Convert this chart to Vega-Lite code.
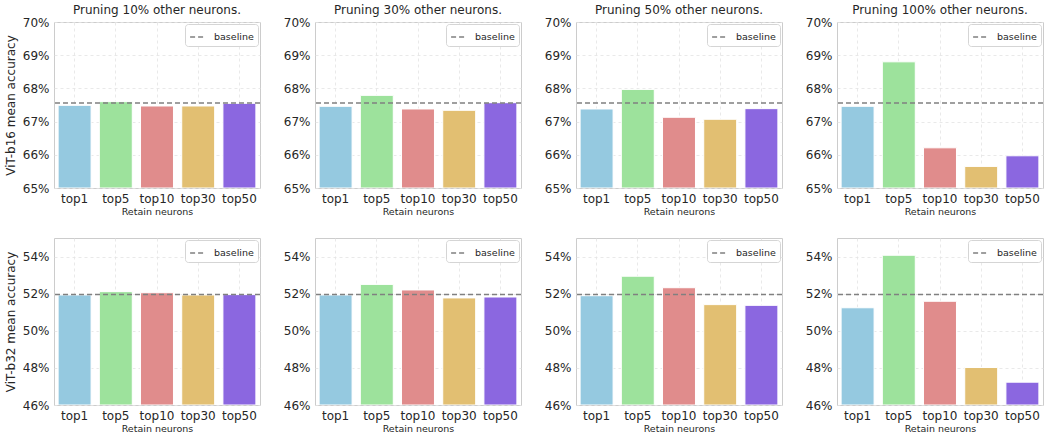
{
  "$schema": "https://vega.github.io/schema/vega-lite/v6.json",
  "padding": {"left": 3, "top": 3, "right": 0, "bottom": 0},
  "background": "white",
  "datasets": {
    "acc": [
      {"model": "ViT-b16", "prune": 10, "neuron": "top1", "acc": 67.49},
      {"model": "ViT-b16", "prune": 10, "neuron": "top5", "acc": 67.60},
      {"model": "ViT-b16", "prune": 10, "neuron": "top10", "acc": 67.47},
      {"model": "ViT-b16", "prune": 10, "neuron": "top30", "acc": 67.47},
      {"model": "ViT-b16", "prune": 10, "neuron": "top50", "acc": 67.55},
      {"model": "ViT-b16", "prune": 30, "neuron": "top1", "acc": 67.46},
      {"model": "ViT-b16", "prune": 30, "neuron": "top5", "acc": 67.79},
      {"model": "ViT-b16", "prune": 30, "neuron": "top10", "acc": 67.38},
      {"model": "ViT-b16", "prune": 30, "neuron": "top30", "acc": 67.34},
      {"model": "ViT-b16", "prune": 30, "neuron": "top50", "acc": 67.57},
      {"model": "ViT-b16", "prune": 50, "neuron": "top1", "acc": 67.38},
      {"model": "ViT-b16", "prune": 50, "neuron": "top5", "acc": 67.97},
      {"model": "ViT-b16", "prune": 50, "neuron": "top10", "acc": 67.13},
      {"model": "ViT-b16", "prune": 50, "neuron": "top30", "acc": 67.07},
      {"model": "ViT-b16", "prune": 50, "neuron": "top50", "acc": 67.39},
      {"model": "ViT-b16", "prune": 100, "neuron": "top1", "acc": 67.46},
      {"model": "ViT-b16", "prune": 100, "neuron": "top5", "acc": 68.80},
      {"model": "ViT-b16", "prune": 100, "neuron": "top10", "acc": 66.21},
      {"model": "ViT-b16", "prune": 100, "neuron": "top30", "acc": 65.65},
      {"model": "ViT-b16", "prune": 100, "neuron": "top50", "acc": 65.97},
      {"model": "ViT-b32", "prune": 10, "neuron": "top1", "acc": 51.93},
      {"model": "ViT-b32", "prune": 10, "neuron": "top5", "acc": 52.11},
      {"model": "ViT-b32", "prune": 10, "neuron": "top10", "acc": 52.05},
      {"model": "ViT-b32", "prune": 10, "neuron": "top30", "acc": 51.93},
      {"model": "ViT-b32", "prune": 10, "neuron": "top50", "acc": 51.95},
      {"model": "ViT-b32", "prune": 30, "neuron": "top1", "acc": 51.93},
      {"model": "ViT-b32", "prune": 30, "neuron": "top5", "acc": 52.50},
      {"model": "ViT-b32", "prune": 30, "neuron": "top10", "acc": 52.20},
      {"model": "ViT-b32", "prune": 30, "neuron": "top30", "acc": 51.77},
      {"model": "ViT-b32", "prune": 30, "neuron": "top50", "acc": 51.82},
      {"model": "ViT-b32", "prune": 50, "neuron": "top1", "acc": 51.89},
      {"model": "ViT-b32", "prune": 50, "neuron": "top5", "acc": 52.94},
      {"model": "ViT-b32", "prune": 50, "neuron": "top10", "acc": 52.32},
      {"model": "ViT-b32", "prune": 50, "neuron": "top30", "acc": 51.41},
      {"model": "ViT-b32", "prune": 50, "neuron": "top50", "acc": 51.37},
      {"model": "ViT-b32", "prune": 100, "neuron": "top1", "acc": 51.24},
      {"model": "ViT-b32", "prune": 100, "neuron": "top5", "acc": 54.07},
      {"model": "ViT-b32", "prune": 100, "neuron": "top10", "acc": 51.59},
      {"model": "ViT-b32", "prune": 100, "neuron": "top30", "acc": 48.02},
      {"model": "ViT-b32", "prune": 100, "neuron": "top50", "acc": 47.23}
    ],
    "base": [
      {"model": "ViT-b16", "series": "baseline", "acc": 67.56},
      {"model": "ViT-b32", "series": "baseline", "acc": 51.95}
    ]
  },
  "config": {
    "font": "DejaVu Sans",
    "view": {"stroke": "#cccccc", "strokeWidth": 1},
    "axis": {
      "labelFont": "DejaVu Sans", "labelFontSize": 12, "labelColor": "#262626",
      "titleFont": "DejaVu Sans", "titleFontWeight": "normal", "titleColor": "#262626",
      "domain": false, "ticks": false, "grid": true, "labelOverlap": false,
      "gridDash": [3, 3], "gridColor": "#e3e3e3", "gridWidth": 0.8
    },
    "axisX": {"labelAngle": 0, "labelPadding": 5, "titleFontSize": 9.5, "titlePadding": 2, "bandPosition": 0.5},
    "axisY": {"labelPadding": 5, "titleFontSize": 12, "titlePadding": 5, "labelOverlap": false, "labelBound": false},
    "title": {"font": "DejaVu Sans", "fontSize": 12, "fontWeight": "normal", "color": "#262626", "offset": -1},
    "legend": {
      "orient": "top-right", "title": null, "fillColor": "white", "strokeColor": "#d5d5d5",
      "cornerRadius": 3, "padding": 4, "offset": 2,
      "labelFont": "DejaVu Sans", "labelFontSize": 9.5, "labelColor": "#262626", "labelOffset": 7,
      "symbolType": "stroke", "symbolStrokeColor": "#808080", "symbolStrokeWidth": 1.5,
      "symbolSize": 250, "symbolDash": [4, 2]
    },
    "rule": {"color": "#808080", "strokeWidth": 1.5}
  },
  "spacing": 21,
  "resolve": {"scale": {"x": "independent", "y": "independent"}, "legend": {"strokeDash": "independent"}},
  "vconcat": [
    {
      "spacing": 20,
      "resolve": {"scale": {"x": "independent", "y": "independent"}, "legend": {"strokeDash": "independent"}},
      "hconcat": [
        {"width": 206, "height": 166, "title": "Pruning 10% other neurons.",
         "encoding": {"y": {"field": "acc", "type": "quantitative", "scale": {"domain": [65, 70], "zero": false, "nice": false}, "axis": {"title": "ViT-b16 mean accuracy", "values": [65,66,67,68,69,70], "labelOverlap": false, "labelExpr": "datum.value + '%'"}}},
         "layer": [
          {"data": {"name": "acc"}, "transform": [{"filter": "datum.model == 'ViT-b16' && datum.prune == 10"}],
           "mark": {"type": "bar", "clip": true, "stroke": "white", "strokeWidth": 1},
           "encoding": {
             "x": {"field": "neuron", "type": "nominal", "sort": ["top1","top5","top10","top30","top50"], "scale": {"paddingInner": 0.2, "paddingOuter": 0.1}, "axis": {"title": "Retain neurons"}},
             "y2": {"datum": 65},
             "color": {"field": "neuron", "type": "nominal", "scale": {"domain": ["top1","top5","top10","top30","top50"], "range": ["#95c9e0","#9de29c","#e08c8c","#e2bf72","#8b67e0"]}, "legend": null}
           }},
          {"data": {"name": "base"}, "transform": [{"filter": "datum.model == 'ViT-b16'"}],
           "mark": "rule",
           "encoding": {
             "strokeDash": {"field": "series", "type": "nominal", "scale": {"domain": ["baseline"], "range": [[5, 3]]}}
           }}
         ]},
        {"width": 206, "height": 166, "title": "Pruning 30% other neurons.",
         "encoding": {"y": {"field": "acc", "type": "quantitative", "scale": {"domain": [65, 70], "zero": false, "nice": false}, "axis": {"title": null, "values": [65,66,67,68,69,70], "labelOverlap": false, "labelExpr": "datum.value + '%'"}}},
         "layer": [
          {"data": {"name": "acc"}, "transform": [{"filter": "datum.model == 'ViT-b16' && datum.prune == 30"}],
           "mark": {"type": "bar", "clip": true, "stroke": "white", "strokeWidth": 1},
           "encoding": {
             "x": {"field": "neuron", "type": "nominal", "sort": ["top1","top5","top10","top30","top50"], "scale": {"paddingInner": 0.2, "paddingOuter": 0.1}, "axis": {"title": "Retain neurons"}},
             "y2": {"datum": 65},
             "color": {"field": "neuron", "type": "nominal", "scale": {"domain": ["top1","top5","top10","top30","top50"], "range": ["#95c9e0","#9de29c","#e08c8c","#e2bf72","#8b67e0"]}, "legend": null}
           }},
          {"data": {"name": "base"}, "transform": [{"filter": "datum.model == 'ViT-b16'"}],
           "mark": "rule",
           "encoding": {
             "strokeDash": {"field": "series", "type": "nominal", "scale": {"domain": ["baseline"], "range": [[5, 3]]}}
           }}
         ]},
        {"width": 206, "height": 166, "title": "Pruning 50% other neurons.",
         "encoding": {"y": {"field": "acc", "type": "quantitative", "scale": {"domain": [65, 70], "zero": false, "nice": false}, "axis": {"title": null, "values": [65,66,67,68,69,70], "labelOverlap": false, "labelExpr": "datum.value + '%'"}}},
         "layer": [
          {"data": {"name": "acc"}, "transform": [{"filter": "datum.model == 'ViT-b16' && datum.prune == 50"}],
           "mark": {"type": "bar", "clip": true, "stroke": "white", "strokeWidth": 1},
           "encoding": {
             "x": {"field": "neuron", "type": "nominal", "sort": ["top1","top5","top10","top30","top50"], "scale": {"paddingInner": 0.2, "paddingOuter": 0.1}, "axis": {"title": "Retain neurons"}},
             "y2": {"datum": 65},
             "color": {"field": "neuron", "type": "nominal", "scale": {"domain": ["top1","top5","top10","top30","top50"], "range": ["#95c9e0","#9de29c","#e08c8c","#e2bf72","#8b67e0"]}, "legend": null}
           }},
          {"data": {"name": "base"}, "transform": [{"filter": "datum.model == 'ViT-b16'"}],
           "mark": "rule",
           "encoding": {
             "strokeDash": {"field": "series", "type": "nominal", "scale": {"domain": ["baseline"], "range": [[5, 3]]}}
           }}
         ]},
        {"width": 206, "height": 166, "title": "Pruning 100% other neurons.",
         "encoding": {"y": {"field": "acc", "type": "quantitative", "scale": {"domain": [65, 70], "zero": false, "nice": false}, "axis": {"title": null, "values": [65,66,67,68,69,70], "labelOverlap": false, "labelExpr": "datum.value + '%'"}}},
         "layer": [
          {"data": {"name": "acc"}, "transform": [{"filter": "datum.model == 'ViT-b16' && datum.prune == 100"}],
           "mark": {"type": "bar", "clip": true, "stroke": "white", "strokeWidth": 1},
           "encoding": {
             "x": {"field": "neuron", "type": "nominal", "sort": ["top1","top5","top10","top30","top50"], "scale": {"paddingInner": 0.2, "paddingOuter": 0.1}, "axis": {"title": "Retain neurons"}},
             "y2": {"datum": 65},
             "color": {"field": "neuron", "type": "nominal", "scale": {"domain": ["top1","top5","top10","top30","top50"], "range": ["#95c9e0","#9de29c","#e08c8c","#e2bf72","#8b67e0"]}, "legend": null}
           }},
          {"data": {"name": "base"}, "transform": [{"filter": "datum.model == 'ViT-b16'"}],
           "mark": "rule",
           "encoding": {
             "strokeDash": {"field": "series", "type": "nominal", "scale": {"domain": ["baseline"], "range": [[5, 3]]}}
           }}
         ]}
      ]
    },
    {
      "spacing": 20,
      "resolve": {"scale": {"x": "independent", "y": "independent"}, "legend": {"strokeDash": "independent"}},
      "hconcat": [
        {"width": 206, "height": 167,
         "encoding": {"y": {"field": "acc", "type": "quantitative", "scale": {"domain": [46, 55], "zero": false, "nice": false}, "axis": {"title": "ViT-b32 mean accuracy", "values": [46,48,50,52,54], "labelOverlap": false, "labelExpr": "datum.value + '%'"}}},
         "layer": [
          {"data": {"name": "acc"}, "transform": [{"filter": "datum.model == 'ViT-b32' && datum.prune == 10"}],
           "mark": {"type": "bar", "clip": true, "stroke": "white", "strokeWidth": 1},
           "encoding": {
             "x": {"field": "neuron", "type": "nominal", "sort": ["top1","top5","top10","top30","top50"], "scale": {"paddingInner": 0.2, "paddingOuter": 0.1}, "axis": {"title": "Retain neurons"}},
             "y2": {"datum": 46},
             "color": {"field": "neuron", "type": "nominal", "scale": {"domain": ["top1","top5","top10","top30","top50"], "range": ["#95c9e0","#9de29c","#e08c8c","#e2bf72","#8b67e0"]}, "legend": null}
           }},
          {"data": {"name": "base"}, "transform": [{"filter": "datum.model == 'ViT-b32'"}],
           "mark": "rule",
           "encoding": {
             "strokeDash": {"field": "series", "type": "nominal", "scale": {"domain": ["baseline"], "range": [[5, 3]]}}
           }}
         ]},
        {"width": 206, "height": 167,
         "encoding": {"y": {"field": "acc", "type": "quantitative", "scale": {"domain": [46, 55], "zero": false, "nice": false}, "axis": {"title": null, "values": [46,48,50,52,54], "labelOverlap": false, "labelExpr": "datum.value + '%'"}}},
         "layer": [
          {"data": {"name": "acc"}, "transform": [{"filter": "datum.model == 'ViT-b32' && datum.prune == 30"}],
           "mark": {"type": "bar", "clip": true, "stroke": "white", "strokeWidth": 1},
           "encoding": {
             "x": {"field": "neuron", "type": "nominal", "sort": ["top1","top5","top10","top30","top50"], "scale": {"paddingInner": 0.2, "paddingOuter": 0.1}, "axis": {"title": "Retain neurons"}},
             "y2": {"datum": 46},
             "color": {"field": "neuron", "type": "nominal", "scale": {"domain": ["top1","top5","top10","top30","top50"], "range": ["#95c9e0","#9de29c","#e08c8c","#e2bf72","#8b67e0"]}, "legend": null}
           }},
          {"data": {"name": "base"}, "transform": [{"filter": "datum.model == 'ViT-b32'"}],
           "mark": "rule",
           "encoding": {
             "strokeDash": {"field": "series", "type": "nominal", "scale": {"domain": ["baseline"], "range": [[5, 3]]}}
           }}
         ]},
        {"width": 206, "height": 167,
         "encoding": {"y": {"field": "acc", "type": "quantitative", "scale": {"domain": [46, 55], "zero": false, "nice": false}, "axis": {"title": null, "values": [46,48,50,52,54], "labelOverlap": false, "labelExpr": "datum.value + '%'"}}},
         "layer": [
          {"data": {"name": "acc"}, "transform": [{"filter": "datum.model == 'ViT-b32' && datum.prune == 50"}],
           "mark": {"type": "bar", "clip": true, "stroke": "white", "strokeWidth": 1},
           "encoding": {
             "x": {"field": "neuron", "type": "nominal", "sort": ["top1","top5","top10","top30","top50"], "scale": {"paddingInner": 0.2, "paddingOuter": 0.1}, "axis": {"title": "Retain neurons"}},
             "y2": {"datum": 46},
             "color": {"field": "neuron", "type": "nominal", "scale": {"domain": ["top1","top5","top10","top30","top50"], "range": ["#95c9e0","#9de29c","#e08c8c","#e2bf72","#8b67e0"]}, "legend": null}
           }},
          {"data": {"name": "base"}, "transform": [{"filter": "datum.model == 'ViT-b32'"}],
           "mark": "rule",
           "encoding": {
             "strokeDash": {"field": "series", "type": "nominal", "scale": {"domain": ["baseline"], "range": [[5, 3]]}}
           }}
         ]},
        {"width": 206, "height": 167,
         "encoding": {"y": {"field": "acc", "type": "quantitative", "scale": {"domain": [46, 55], "zero": false, "nice": false}, "axis": {"title": null, "values": [46,48,50,52,54], "labelOverlap": false, "labelExpr": "datum.value + '%'"}}},
         "layer": [
          {"data": {"name": "acc"}, "transform": [{"filter": "datum.model == 'ViT-b32' && datum.prune == 100"}],
           "mark": {"type": "bar", "clip": true, "stroke": "white", "strokeWidth": 1},
           "encoding": {
             "x": {"field": "neuron", "type": "nominal", "sort": ["top1","top5","top10","top30","top50"], "scale": {"paddingInner": 0.2, "paddingOuter": 0.1}, "axis": {"title": "Retain neurons"}},
             "y2": {"datum": 46},
             "color": {"field": "neuron", "type": "nominal", "scale": {"domain": ["top1","top5","top10","top30","top50"], "range": ["#95c9e0","#9de29c","#e08c8c","#e2bf72","#8b67e0"]}, "legend": null}
           }},
          {"data": {"name": "base"}, "transform": [{"filter": "datum.model == 'ViT-b32'"}],
           "mark": "rule",
           "encoding": {
             "strokeDash": {"field": "series", "type": "nominal", "scale": {"domain": ["baseline"], "range": [[5, 3]]}}
           }}
         ]}
      ]
    }
  ]
}
